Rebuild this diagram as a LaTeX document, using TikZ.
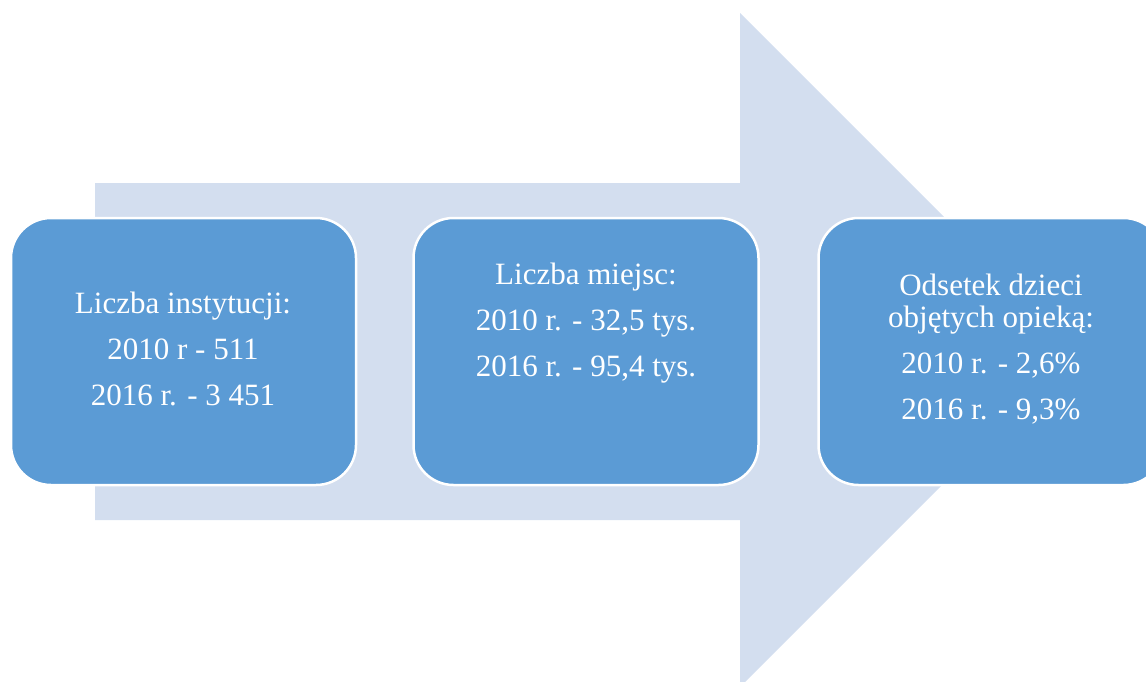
\documentclass[tikz,border=0pt]{standalone}
\usepackage{fontspec}
\setmainfont{Liberation Serif}
\definecolor{arrowfill}{HTML}{D3DEEF}
\definecolor{boxfill}{HTML}{5B9BD5}
\tikzset{
  infobox/.style={draw=white, line width=2.5pt, fill=boxfill, rounded corners=40pt,
    minimum width=345pt, minimum height=267pt, inner sep=0pt},
  infotext/.style={text=white, align=center, inner sep=0pt,
    font=\fontsize{31}{46}\selectfont}
}
\begin{document}
\begin{tikzpicture}[x=1pt,y=-1pt]
\path[use as bounding box, clip] (0,0) rectangle (1146,681);
% big arrow
\fill[arrowfill] (95,183) -- (740,183) -- (740,13) -- (1077,350) -- (740,687) -- (740,520) -- (95,520) -- cycle;
% boxes
\node[infobox] (b1) at (183.5,351.5) {};
\node[infobox] (b2) at (586,351.5) {};
\node[infobox] (b3) at (991,351.5) {};
% texts
\node[infotext] (t1) at (183,349) {Liczba instytucji:\\2010 r - 511\\2016 r. - 3 451};
\node[infotext] (t2) at (586,323) {Liczba miejsc:\\2010 r. - 32,5 tys.\\2016 r. - 95,4 tys.};
\node[infotext] (t3) at (991,349) {Odsetek dzieci\\[-14pt]objętych opieką:\\2010 r. - 2,6\%\\2016 r. - 9,3\%};
\end{tikzpicture}
\end{document}
